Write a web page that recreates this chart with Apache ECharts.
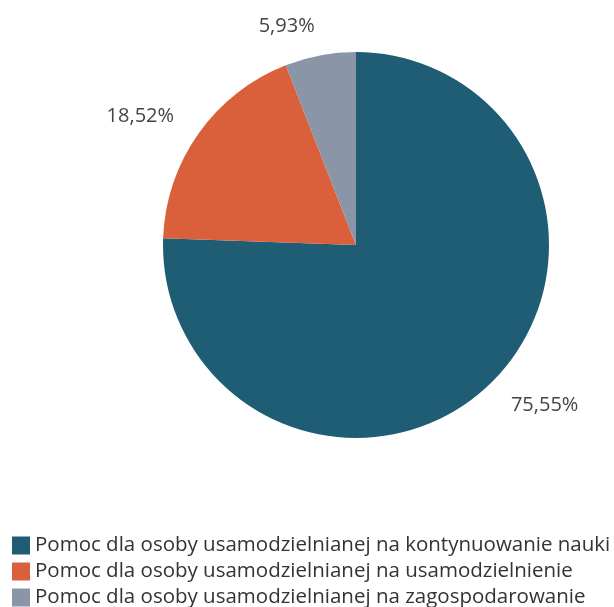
<!DOCTYPE html>
<html>
<head>
<meta charset="utf-8">
<script src="https://cdn.jsdelivr.net/npm/echarts@6/dist/echarts.min.js"></script>
<style>
html,body{margin:0;padding:0;background:#fff;}
#chart{width:614px;height:607px;}
</style>
</head>
<body>
<div id="chart"></div>
<script>
const categories = [
  'Pomoc dla osoby usamodzielnianej na kontynuowanie nauki',
  'Pomoc dla osoby usamodzielnianej na usamodzielnienie',
  'Pomoc dla osoby usamodzielnianej na zagospodarowanie'
];
const values = [75.55, 18.52, 5.93];
const colors = ['#1f5d74', '#d9603b', '#8a95a8'];

const chart = echarts.init(document.getElementById('chart'));
chart.setOption({
  animation: false,
  color: colors,
  legend: {
    orient: 'vertical',
    left: 12,
    top: 535,
    height: 90,
    width: 600,
    padding: 0,
    icon: 'rect',
    itemWidth: 18,
    itemHeight: 18,
    itemGap: 5,
    textStyle: { fontFamily: 'Open Sans', fontSize: 20.5, lineHeight: 18, color: '#333' },
    data: categories
  },
  series: [{
    type: 'pie',
    center: [356, 245],
    radius: 193,
    startAngle: 90,
    clockwise: true,
    avoidLabelOverlap: false,
    label: {
      show: true,
      position: 'outside',
      fontFamily: 'Open Sans',
      fontSize: 20,
      color: '#444',
      distanceToLabelLine: 0,
      formatter: p => p.value.toFixed(2).replace('.', ',') + '%'
    },
    labelLine: { show: false, length: 30, length2: 0 },
    data: categories.map((c, i) => ({ name: c, value: values[i] }))
  }]
});
</script>
</body>
</html>
